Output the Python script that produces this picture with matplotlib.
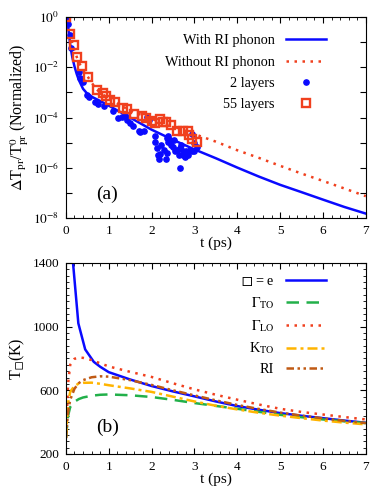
import numpy as np
import matplotlib
matplotlib.use("Agg")
import matplotlib.pyplot as plt
from matplotlib.ticker import MultipleLocator, FixedLocator

plt.rcParams['font.family'] = ['Liberation Serif', 'DejaVu Serif']
plt.rcParams['mathtext.fontset'] = 'stix'
plt.rcParams['font.size'] = 9.5

""" panel (a) data """
t_line = [0, 0.05, 0.1, 0.15, 0.2, 0.25, 0.3, 0.4, 0.5, 0.6, 0.8, 1.0, 1.5, 2.0,
          2.5, 3.0, 3.5, 4.0, 4.5, 5.0, 5.5, 6.0, 6.5, 7.0]
with_ri = [1.0, 0.45, 0.079, 0.025, 0.011, 5.6e-3, 3.2e-3, 1.4e-3, 8.9e-4, 6.8e-4,
           4.6e-4, 3.0e-4, 1.0e-4, 3.3e-5, 1.3e-5, 5.4e-6, 2.4e-6, 1.02e-6, 4.5e-7,
           2.1e-7, 1.07e-7, 5.4e-8, 2.75e-8, 1.5e-8]
t_line2 = [0, 0.1, 0.2, 0.3, 0.4, 0.5, 0.6, 0.7, 0.8, 1.0, 1.5, 2.0, 2.5, 3.0, 3.5,
           4.0, 4.5, 5.0, 5.5, 6.0, 6.5, 7.0]
without_ri = [1.0, 0.2, 0.045, 0.016, 7.9e-3, 4.5e-3, 2.5e-3, 1.4e-3, 1.0e-3, 5.6e-4,
              1.9e-4, 8.9e-5, 4.5e-5, 2.2e-5, 1.1e-5, 5.0e-6, 2.5e-6, 1.2e-6, 5.9e-7,
              3.0e-7, 1.5e-7, 7.4e-8]

t_2l = [0, 0.06, 0.1, 0.12, 0.3, 0.33, 0.4, 0.49, 0.55, 0.69, 0.74, 0.88, 1.11, 1.21,
        1.32, 1.39, 1.43, 1.5, 1.57, 1.7, 1.74, 1.83, 1.89, 1.93, 2.07, 2.09, 2.13,
        2.14, 2.17, 2.19, 2.23, 2.28, 2.33, 2.35, 2.36, 2.38, 2.38, 2.42, 2.45, 2.5,
        2.52, 2.55, 2.6, 2.63, 2.66, 2.67, 2.69, 2.73, 2.74, 2.77, 2.81, 2.84, 2.89,
        2.95, 2.95, 2.98, 3.0, 3.05]
v_2l = [1.0, 0.54, 0.2, 0.057, 6.8e-3, 3.9e-3, 2.6e-3, 8.3e-4, 6.7e-4, 4.3e-4, 3.5e-4,
        2.8e-4, 1.8e-4, 9.7e-5, 1.1e-4, 1.3e-4, 8.3e-5, 6.2e-5, 4.8e-5, 3.0e-5, 2.7e-5,
        2.8e-5, 1.1e-4, 7.8e-5, 1.8e-5, 1.05e-5, 6.0e-6, 3.1e-6, 2.3e-6, 3.5e-6, 7.8e-6,
        5.2e-6, 2.3e-6, 3.8e-6, 1.5e-5, 1.8e-5, 1.1e-5, 1.3e-5, 8.3e-6, 6.5e-6, 1.3e-5,
        4.5e-6, 5.2e-6, 3.3e-6, 1.0e-6, 6.0e-6, 8.3e-6, 4.5e-6, 3.2e-6, 2.6e-6, 4.8e-6,
        3.3e-6, 5.2e-6, 2.2e-5, 4.5e-6, 9.5e-6, 4.5e-6, 7.0e-6]

t_55l = [0, 0.1, 0.19, 0.26, 0.37, 0.51, 0.72, 0.87, 0.94, 1.04, 1.15, 1.33, 1.43,
         1.6, 1.78, 1.88, 2.01, 2.07, 2.19, 2.27, 2.34, 2.45, 2.6, 2.73, 2.85, 2.88,
         2.95, 3.05]
v_55l = [1.0, 0.21, 0.078, 0.027, 0.0115, 4.1e-3, 1.26e-3, 9.2e-4, 7.2e-4, 5.1e-4,
         4.0e-4, 2.5e-4, 2.2e-4, 1.45e-4, 1.15e-4, 9.7e-5, 7.1e-5, 5.9e-5, 8.9e-5,
         6.5e-5, 6.5e-5, 5.1e-5, 3.0e-5, 3.0e-5, 3.0e-5, 2.1e-5, 1.45e-5, 1.1e-5]

""" panel (b) data """
t_b = [0, 0.05, 0.1, 0.2, 0.3, 0.4, 0.6, 0.8, 1.0, 1.5, 2.0, 2.5, 3.0, 3.5, 4.0, 4.5,
       5.0, 5.5, 6.0, 6.5, 7.0]
t_e = [0, 0.08, 0.15, 0.29, 0.45, 0.65, 0.8, 1.0, 1.5, 2.0, 2.5, 3.0, 3.5, 4.0, 4.5,
       5.0, 5.5, 6.0, 6.5, 7.0]
T_e = [3200, 2200, 1450, 1021, 857, 779, 748, 714, 668, 627, 593, 562, 530, 501, 478,
       457, 440, 425, 410, 396]
T_gto = [300, 440, 495, 528, 545, 555, 566, 572, 574, 569, 558, 540, 520, 502, 484,
         465, 446, 431, 417, 405, 394]
T_glo = [300, 640, 760, 798, 806, 804, 790, 770, 750, 716, 684, 644, 606, 572, 541,
         511, 484, 464, 448, 432, 417]
T_kto = [300, 520, 590, 628, 642, 647, 648, 641, 632, 612, 590, 560, 530, 503, 480,
         459, 441, 425, 410, 397, 386]
T_ri = [300, 460, 540, 610, 645, 664, 682, 688, 686, 664, 634, 600, 568, 537, 508,
        483, 460, 441, 424, 408, 394]

blue = '#0a0aff'
red = '#f0401e'

fig = plt.figure(figsize=(3.9, 4.91), dpi=100)
ax1 = fig.add_axes([0.169, 0.556, 0.769, 0.409])
ax2 = fig.add_axes([0.169, 0.0754, 0.769, 0.389])

for ax in (ax1, ax2):
    ax.tick_params(which='both', direction='in', top=True, right=True, labelsize=9.5,
                   pad=5)
    ax.tick_params(which='major', length=4, width=0.8)
    ax.tick_params(which='minor', length=2.2, width=0.6)
    ax.set_xlim(0, 7)
    ax.xaxis.set_major_locator(MultipleLocator(1))
    ax.xaxis.set_minor_locator(MultipleLocator(0.2))
    ax.set_xlabel('t (ps)', fontsize=11, labelpad=0)

# (a)
ax1.plot(t_line, with_ri, color=blue, lw=1.8, label='With RI phonon')
ax1.plot(t_line2, without_ri, color=red, lw=1.8, ls=(0, (1, 2.2)),
         label='Without RI phonon')
ax1.plot(t_2l, v_2l, 'o', color=blue, ms=3.8, mec=blue, label='2 layers')
ax1.plot(t_55l, v_55l, 's', mfc='none', mec=red, ms=6.3, mew=1.7, label='55 layers')
ax1.set_yscale('log')
ax1.set_ylim(1e-8, 1)
decs = [10.0 ** k for k in range(-8, 1)]
ax1.yaxis.set_major_locator(FixedLocator(decs))
ax1.yaxis.set_minor_locator(FixedLocator([]))
ax1.set_yticklabels(['$10^{%d}$' % k if k % 2 == 0 else '' for k in range(-8, 1)])
ax1.set_ylabel(r'$\Delta$T$_{\rm pr}$/T$^{0}_{\rm pr}$ (Normalized)', fontsize=11.5,
               labelpad=1)
ax1.text(0.137, 0.12, '(a)', transform=ax1.transAxes, fontsize=14, ha='center',
         va='center')
ax1.legend(loc='upper right', bbox_to_anchor=(0.867, 0.915), frameon=False,
           markerfirst=False, handlelength=2.8, labelspacing=0.58, borderpad=0,
           borderaxespad=0, handletextpad=0.8, fontsize=10.3)

# (b)
ax2.plot(t_e, T_e, color=blue, lw=1.8, label='$◻$ = e')
ax2.plot(t_b, T_gto, color='#22b04a', lw=1.8, ls=(0, (5, 3)),
         label=r'$\Gamma_{\rm TO}$')
ax2.plot(t_b, T_glo, color=red, lw=1.8, ls=(0, (1, 2.2)), label=r'$\Gamma_{\rm LO}$')
ax2.plot(t_b, T_kto, color='#ffb400', lw=1.8, ls=(0, (4, 1.6, 1.2, 1.6)),
         label=r'K$_{\rm TO}$')
ax2.plot(t_b, T_ri, color='#c05a14', lw=1.8, ls=(0, (3, 1.4, 1, 1.4, 1, 1.4)),
         label='RI')
ax2.set_ylim(200, 1400)
ax2.yaxis.set_major_locator(FixedLocator([200, 600, 1000, 1400]))
ax2.yaxis.set_minor_locator(MultipleLocator(40))
ax2.set_ylabel('T$_{◻}$(K)', fontsize=11.5, labelpad=4)
ax2.text(0.14, 0.14, '(b)', transform=ax2.transAxes, fontsize=14, ha='center',
         va='center')
ax2.legend(loc='upper right', bbox_to_anchor=(0.867, 0.935), frameon=False,
           markerfirst=False, handlelength=2.8, labelspacing=0.48, borderpad=0,
           borderaxespad=0, handletextpad=0.8, fontsize=10.3)

fig.savefig('out.png', dpi=100)
